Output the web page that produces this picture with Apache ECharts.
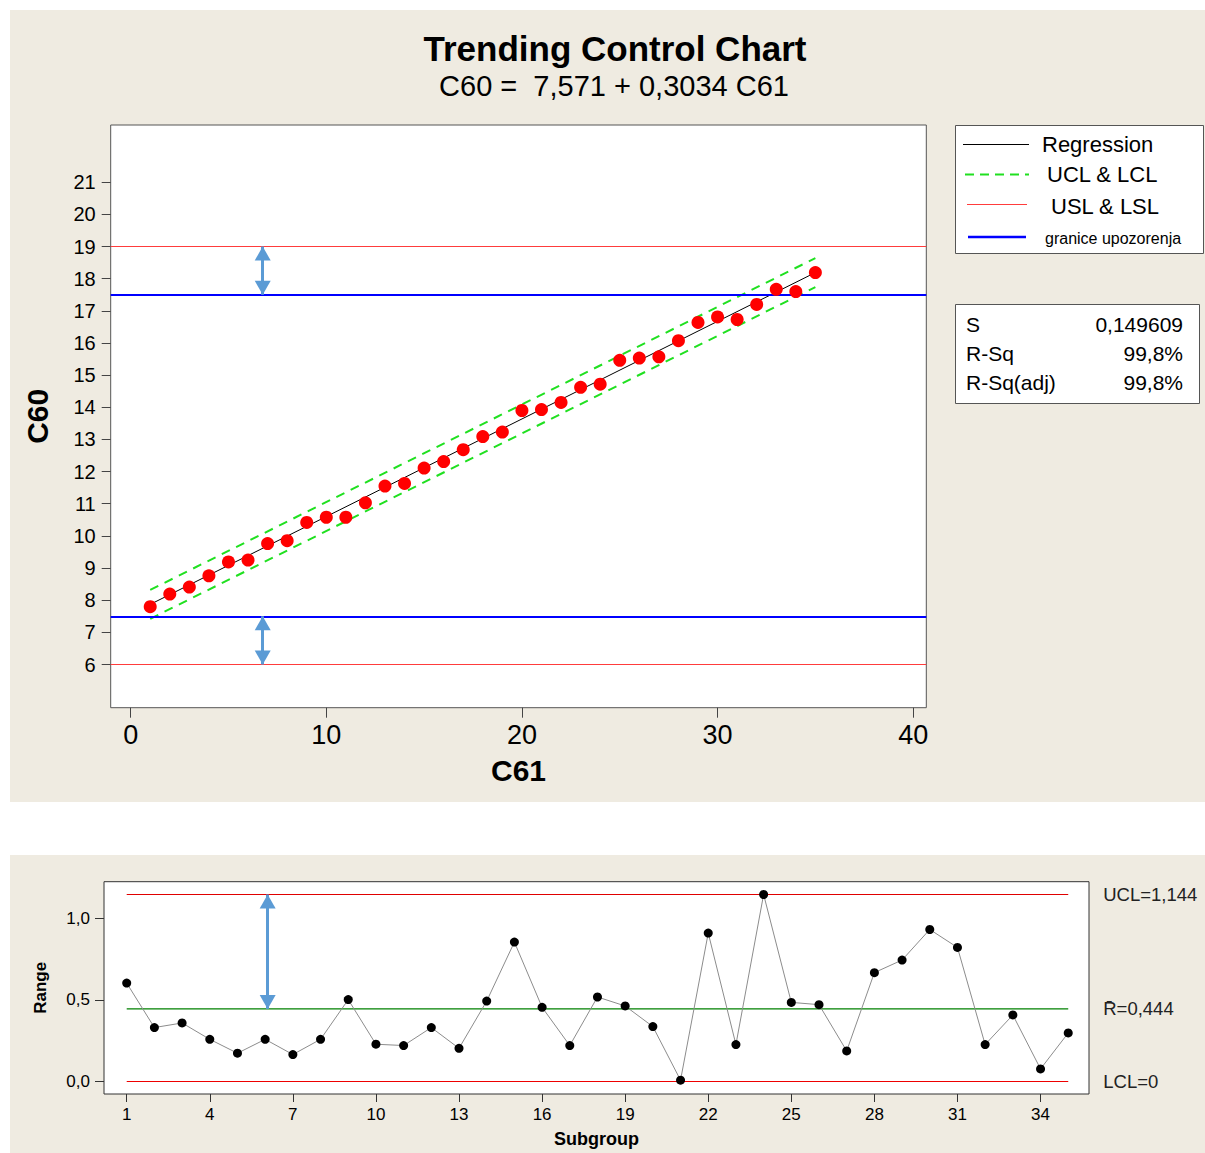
<!DOCTYPE html>
<html><head><meta charset="utf-8">
<script src="https://cdn.jsdelivr.net/npm/echarts@6/dist/echarts.min.js"></script>
<style>html,body{margin:0;padding:0;background:#fff}#chart{width:1205px;height:1153px}</style>
</head><body><div id="chart"></div>
<script>
// ---------- data ----------
const c61 = [1,2,3,4,5,6,7,8,9,10,11,12,13,14,15,16,17,18,19,20,21,22,23,24,25,26,27,28,29,30,31,32,33,34,35];
const c60 = [7.80,8.19,8.41,8.76,9.19,9.25,9.76,9.85,10.42,10.58,10.58,11.03,11.55,11.63,12.11,12.31,12.68,13.09,13.23,13.90,13.93,14.15,14.62,14.72,15.46,15.53,15.57,16.07,16.64,16.81,16.73,17.20,17.67,17.60,18.19];
const regX = [1, 35];
const regY = [7.87, 18.19];
const uclY = [8.32, 18.64];
const lclY = [7.42, 17.74];
const specLimits = [19, 6];
const warnLimits = [17.5, 7.5];
const topArrowX = 6.75;
const topXTicks = [0,10,20,30,40];
const topYTicks = [6,7,8,9,10,11,12,13,14,15,16,17,18,19,20,21];

const subgroups = [1,2,3,4,5,6,7,8,9,10,11,12,13,14,15,16,17,18,19,20,21,22,23,24,25,26,27,28,29,30,31,32,33,34,35];
const ranges = [0.602,0.330,0.358,0.258,0.173,0.258,0.165,0.258,0.501,0.228,0.220,0.330,0.203,0.492,0.853,0.454,0.220,0.517,0.462,0.336,0.008,0.908,0.226,1.144,0.484,0.470,0.187,0.666,0.743,0.930,0.820,0.226,0.407,0.077,0.297];
const rangeUCL = 1.144, rangeRbar = 0.444, rangeLCL = 0;
const rangeLabels = ['UCL=1,144', 'R\u0304=0,444', 'LCL=0'];
const bottomArrowX = 6.09;
const bottomXTicks = [1,4,7,10,13,16,19,22,25,28,31,34];
const bottomYTicks = [0, 0.5, 1.0];

const titleText = 'Trending Control Chart';
const subtitleText = 'C60 =  7,571 + 0,3034 C61';
const legendNames = ['Regression', 'UCL & LCL', 'USL & LSL', 'granice upozorenja'];
const statsLabels = ['S', 'R-Sq', 'R-Sq(adj)'];
const statsValues = ['0,149609', '99,8%', '99,8%'];

// ---------- styles ----------
const FF = '"Liberation Sans", Arial, sans-serif';
const ARROW = '#5B9BD5';
const SPEC_RED = '#ff3c3c';
const pair = (xs, ys) => xs.map((x, i) => [x, ys[i]]);
const arrowEnd = (x, y) => ({coord: [x, y], symbol: 'triangle', symbolSize: [16, 14], symbolOffset: [0, 7]});
const firstSub = subgroups[0], lastSub = subgroups[subgroups.length - 1];
const limitSeries = (value, color, label) => ({
  type: 'line', xAxisIndex: 1, yAxisIndex: 1, z: 4, silent: true,
  data: [[firstSub, value], [lastSub, value]],
  showSymbol: false, symbol: 'none', clip: false,
  lineStyle: {color: color, width: 1.2, type: 'solid', opacity: 1},
  emphasis: {disabled: true},
  endLabel: {show: true, formatter: label, distance: 35, fontSize: 18.5, fontFamily: FF, color: '#222'}
});

const chart = echarts.init(document.getElementById('chart'), null, {renderer: 'svg'});

const graphicEls = [
  {type:'rect', shape:{x:10,y:10,width:1195,height:792}, style:{fill:'#EFEBE1'}, z:-10, silent:true},
  {type:'rect', shape:{x:10,y:855,width:1195,height:298}, style:{fill:'#EFEBE1'}, z:-10, silent:true},
  // legend box
  {type:'rect', shape:{x:955.5,y:125.5,width:248,height:128}, style:{fill:'#fff', stroke:'#555', lineWidth:1}, z:1},
  {type:'line', shape:{x1:963,y1:144.5,x2:1029,y2:144.5}, style:{stroke:'#000', lineWidth:1}, z:2},
  {type:'line', shape:{x1:965,y1:174.5,x2:1029,y2:174.5}, style:{stroke:'#20e020', lineWidth:2, lineDash:[9,6]}, z:2},
  {type:'line', shape:{x1:967,y1:204.5,x2:1027,y2:204.5}, style:{stroke:SPEC_RED, lineWidth:1}, z:2},
  {type:'line', shape:{x1:968,y1:237,x2:1026,y2:237}, style:{stroke:'#0000ff', lineWidth:2.5}, z:2},
  {type:'text', x:1042, y:144, style:{text:legendNames[0], fontSize:22, fontFamily:FF, fill:'#000', align:'left', verticalAlign:'middle'}, z:2},
  {type:'text', x:1047, y:174.5, style:{text:legendNames[1], fontSize:22, fontFamily:FF, fill:'#000', align:'left', verticalAlign:'middle'}, z:2},
  {type:'text', x:1051, y:206, style:{text:legendNames[2], fontSize:22, fontFamily:FF, fill:'#000', align:'left', verticalAlign:'middle'}, z:2},
  {type:'text', x:1045, y:238, style:{text:legendNames[3], fontSize:16, fontFamily:FF, fill:'#000', align:'left', verticalAlign:'middle'}, z:2},
  // stats box
  {type:'rect', shape:{x:955.5,y:304.5,width:244,height:99}, style:{fill:'#fff', stroke:'#555', lineWidth:1}, z:1}
];
const statsY = [324, 353, 382];
statsLabels.forEach((t, i) => {
  graphicEls.push({type:'text', x:966, y:statsY[i], style:{text:t, fontSize:21, fontFamily:FF, fill:'#000', align:'left', verticalAlign:'middle'}, z:2});
  graphicEls.push({type:'text', x:1183, y:statsY[i], style:{text:statsValues[i], fontSize:21, fontFamily:FF, fill:'#000', align:'right', verticalAlign:'middle'}, z:2});
});

const option = {
  animation: false,
  backgroundColor: '#fff',
  title: [
    {text: titleText, left: 610, top: 26, textAlign: 'center', textStyle: {fontSize: 35, fontWeight: 'bold', fontFamily: FF, color: '#000'}},
    {text: subtitleText, left: 609, top: 66, textAlign: 'center', textStyle: {fontSize: 29, fontWeight: 'normal', fontFamily: FF, color: '#000'}}
  ],
  graphic: {elements: graphicEls},
  grid: [
    {left: 110.7, top: 125, width: 815.6, height: 582.7, show: true, backgroundColor: '#fff', borderColor: '#555', borderWidth: 1, containLabel: false},
    {left: 104, top: 881.7, width: 985, height: 212.3, show: true, backgroundColor: '#fff', borderColor: '#333', borderWidth: 1, containLabel: false}
  ],
  xAxis: [
    {type: 'value', gridIndex: 0, min: -1.02, max: 40.67,
     name: 'C61', nameLocation: 'middle', nameGap: 48,
     nameTextStyle: {fontSize: 30, fontWeight: 'bold', fontFamily: FF, color: '#000'},
     axisLine: {show: false, onZero: false}, splitLine: {show: false},
     axisTick: {show: true, inside: false, customValues: topXTicks, length: 10, lineStyle: {color: '#444'}},
     axisLabel: {customValues: topXTicks, margin: 14, fontSize: 27, fontFamily: FF, color: '#000'}},
    {type: 'value', gridIndex: 1, min: 0.18, max: 35.75,
     name: 'Subgroup', nameLocation: 'middle', nameGap: 36,
     nameTextStyle: {fontSize: 18, fontWeight: 'bold', fontFamily: FF, color: '#000'},
     axisLine: {show: false, onZero: false}, splitLine: {show: false},
     axisTick: {show: true, inside: false, customValues: bottomXTicks, length: 8, lineStyle: {color: '#333'}},
     axisLabel: {customValues: bottomXTicks, margin: 12, fontSize: 17, fontFamily: FF, color: '#000'}}
  ],
  yAxis: [
    {type: 'value', gridIndex: 0, min: 4.657, max: 22.779,
     name: 'C60', nameLocation: 'middle', nameGap: 58,
     nameTextStyle: {fontSize: 30, fontWeight: 'bold', fontFamily: FF, color: '#000'},
     axisLine: {show: false, onZero: false}, splitLine: {show: false},
     axisTick: {show: true, inside: false, customValues: topYTicks, length: 9, lineStyle: {color: '#444'}},
     axisLabel: {customValues: topYTicks, margin: 15, fontSize: 20, fontFamily: FF, color: '#000'}},
    {type: 'value', gridIndex: 1, min: -0.0765, max: 1.2223,
     name: 'Range', nameLocation: 'middle', nameGap: 55,
     nameTextStyle: {fontSize: 17, fontWeight: 'bold', fontFamily: FF, color: '#000'},
     axisLine: {show: false, onZero: false}, splitLine: {show: false},
     axisTick: {show: true, inside: false, customValues: bottomYTicks, length: 9, lineStyle: {color: '#333'}},
     axisLabel: {customValues: bottomYTicks, margin: 14, fontSize: 17, fontFamily: FF, color: '#000',
                 formatter: v => v.toFixed(1).replace('.', ',')}}
  ],
  series: [
    // limit lines & arrows (top)
    {type: 'line', xAxisIndex: 0, yAxisIndex: 0, data: [], z: 1, silent: true,
     markLine: {silent: true, symbol: 'none', label: {show: false}, emphasis: {disabled: true},
       data: [
         {yAxis: specLimits[0], lineStyle: {color: SPEC_RED, width: 1, type: 'solid', opacity: 1}},
         {yAxis: specLimits[1], lineStyle: {color: SPEC_RED, width: 1, type: 'solid', opacity: 1}},
         {yAxis: warnLimits[0], lineStyle: {color: '#0000ff', width: 2, type: 'solid', opacity: 1}},
         {yAxis: warnLimits[1], lineStyle: {color: '#0000ff', width: 2, type: 'solid', opacity: 1}},
         [arrowEnd(topArrowX, specLimits[0]), arrowEnd(topArrowX, warnLimits[0])],
         [arrowEnd(topArrowX, warnLimits[1]), arrowEnd(topArrowX, specLimits[1])]
       ].map(d => Array.isArray(d) ? [Object.assign({lineStyle: {color: ARROW, width: 3, type: 'solid', opacity: 1}, itemStyle: {color: ARROW}}, d[0]), d[1]] : d)
     }},
    {name: 'Regression', type: 'line', xAxisIndex: 0, yAxisIndex: 0, data: pair(regX, regY),
     showSymbol: false, symbol: 'none', lineStyle: {color: '#000', width: 1}, z: 3, silent: true},
    {name: 'UCL', type: 'line', xAxisIndex: 0, yAxisIndex: 0, data: pair(regX, uclY),
     showSymbol: false, symbol: 'none', lineStyle: {color: '#20e020', width: 2, type: [9, 7]}, z: 3, silent: true},
    {name: 'LCL', type: 'line', xAxisIndex: 0, yAxisIndex: 0, data: pair(regX, lclY),
     showSymbol: false, symbol: 'none', lineStyle: {color: '#20e020', width: 2, type: [9, 7]}, z: 3, silent: true},
    {name: 'C60', type: 'scatter', xAxisIndex: 0, yAxisIndex: 0, data: pair(c61, c60),
     symbol: 'circle', symbolSize: 13, itemStyle: {color: '#ff0000', opacity: 1}, z: 5, silent: true},
    // bottom limits
    limitSeries(rangeUCL, '#e00000', rangeLabels[0]),
    limitSeries(rangeRbar, '#008000', rangeLabels[1]),
    limitSeries(rangeLCL, '#ee0000', rangeLabels[2]),
    {type: 'line', xAxisIndex: 1, yAxisIndex: 1, data: [], z: 1, silent: true,
     markLine: {silent: true, symbol: 'none', emphasis: {disabled: true}, label: {show: false},
       data: [
         [Object.assign({lineStyle: {color: ARROW, width: 3, type: 'solid', opacity: 1}, itemStyle: {color: ARROW}}, arrowEnd(bottomArrowX, rangeUCL)), arrowEnd(bottomArrowX, rangeRbar)]
       ]}},
    {name: 'Range', type: 'line', xAxisIndex: 1, yAxisIndex: 1, data: pair(subgroups, ranges),
     symbol: 'circle', symbolSize: 9, showSymbol: true,
     lineStyle: {color: '#8c8c8c', width: 1}, itemStyle: {color: '#000'}, z: 5, silent: true}
  ]
};
chart.setOption(option);
</script>
</body></html>
